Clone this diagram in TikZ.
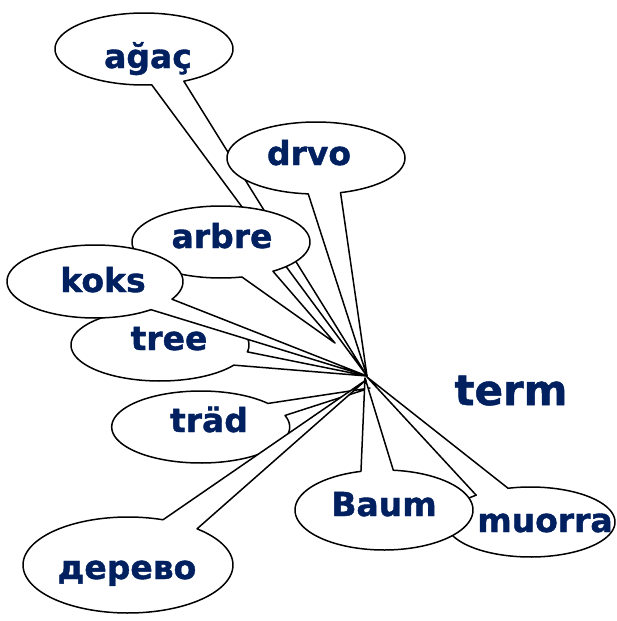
\documentclass[tikz,border=0pt]{standalone}
\usepackage{fontspec}
\setmainfont{DejaVu Sans}
\newfontfamily\lblfont{DejaVu Sans}[BoldFeatures={FakeBold=1.2}]
\definecolor{navy}{RGB}{0,32,96}
\begin{document}
\begin{tikzpicture}[x=1pt,y=-1pt,line width=1.5pt,line join=round,
  cb/.style={draw=black,fill=white},
  lbl/.style={text=navy,font=\lblfont\fontsize{33}{40}\selectfont\bfseries,anchor=base,inner sep=0pt},
  big/.style={text=navy,font=\lblfont\fontsize{42}{50}\selectfont\bfseries,anchor=base,inner sep=0pt}]
\useasboundingbox (0,0) rectangle (616,621);
\coordinate (focus) at (367,376);
\coordinate (arbretip) at (335,343);
\coordinate (tradtip) at (370,388);
\coordinate (derevotip) at (366,380);
\coordinate (muorratip) at (367,377);
\coordinate (baumtip) at (365,378);
% ağaç
\filldraw[cb] plot[domain=85:423.4,samples=120] ({144+89*cos(\x)},{49+36*sin(\x)}) -- (focus) -- cycle;
\node[lbl] (agac) at (148,68) {ağaç};
% drvo
\filldraw[cb] plot[domain=95:434,samples=120] ({316+89*cos(\x)},{158+36*sin(\x)}) -- (focus) -- cycle;
\node[lbl] (drvo) at (309,165) {drvo};
% arbre
\filldraw[cb] plot[domain=76.4:414.3,samples=120] ({221+89*cos(\x)},{242+36*sin(\x)}) -- (arbretip) -- cycle;
\node[lbl] (arbre) at (222,248) {arbre};
% tree
\filldraw[cb] plot[domain=34:371,samples=120] ({160+89*cos(\x)},{345+36*sin(\x)}) -- (focus) -- cycle;
\node[lbl] (tree) at (169,350) {tree};
% koks
\filldraw[cb] plot[domain=50.5:389,samples=120] ({95+88*cos(\x)},{281.5+36.5*sin(\x)}) -- (focus) -- cycle;
\node[lbl] (koks) at (103,292) {koks};
% träd
\filldraw[cb] plot[domain=-18.7:319.1,samples=120] ({200.7+89*cos(\x)},{427+36*sin(\x)}) -- (tradtip) -- cycle;
\node[lbl] (trad) at (209,432) {träd};
% дерево
\filldraw[cb] plot[domain=-48.9:289.5,samples=120] ({128+105*cos(\x)},{565+48*sin(\x)}) -- (derevotip) -- cycle;
\node[lbl] (derevo) at (127,579) {дерево};
% muorra
\filldraw[cb] plot[domain=-105.4:230,samples=120] ({530.5+84.5*cos(\x)},{522+35*sin(\x)}) -- (muorratip) -- cycle;
\node[lbl] (muorra) at (545,532) {muorra};
% Baum
\filldraw[cb] plot[domain=-84:255,samples=120] ({384+89*cos(\x)},{510+40*sin(\x)}) -- (baumtip) -- cycle;
\node[lbl] (baum) at (384,516) {Baum};
% term
\node[big] (term) at (511,405) {term};
\end{tikzpicture}
\end{document}
